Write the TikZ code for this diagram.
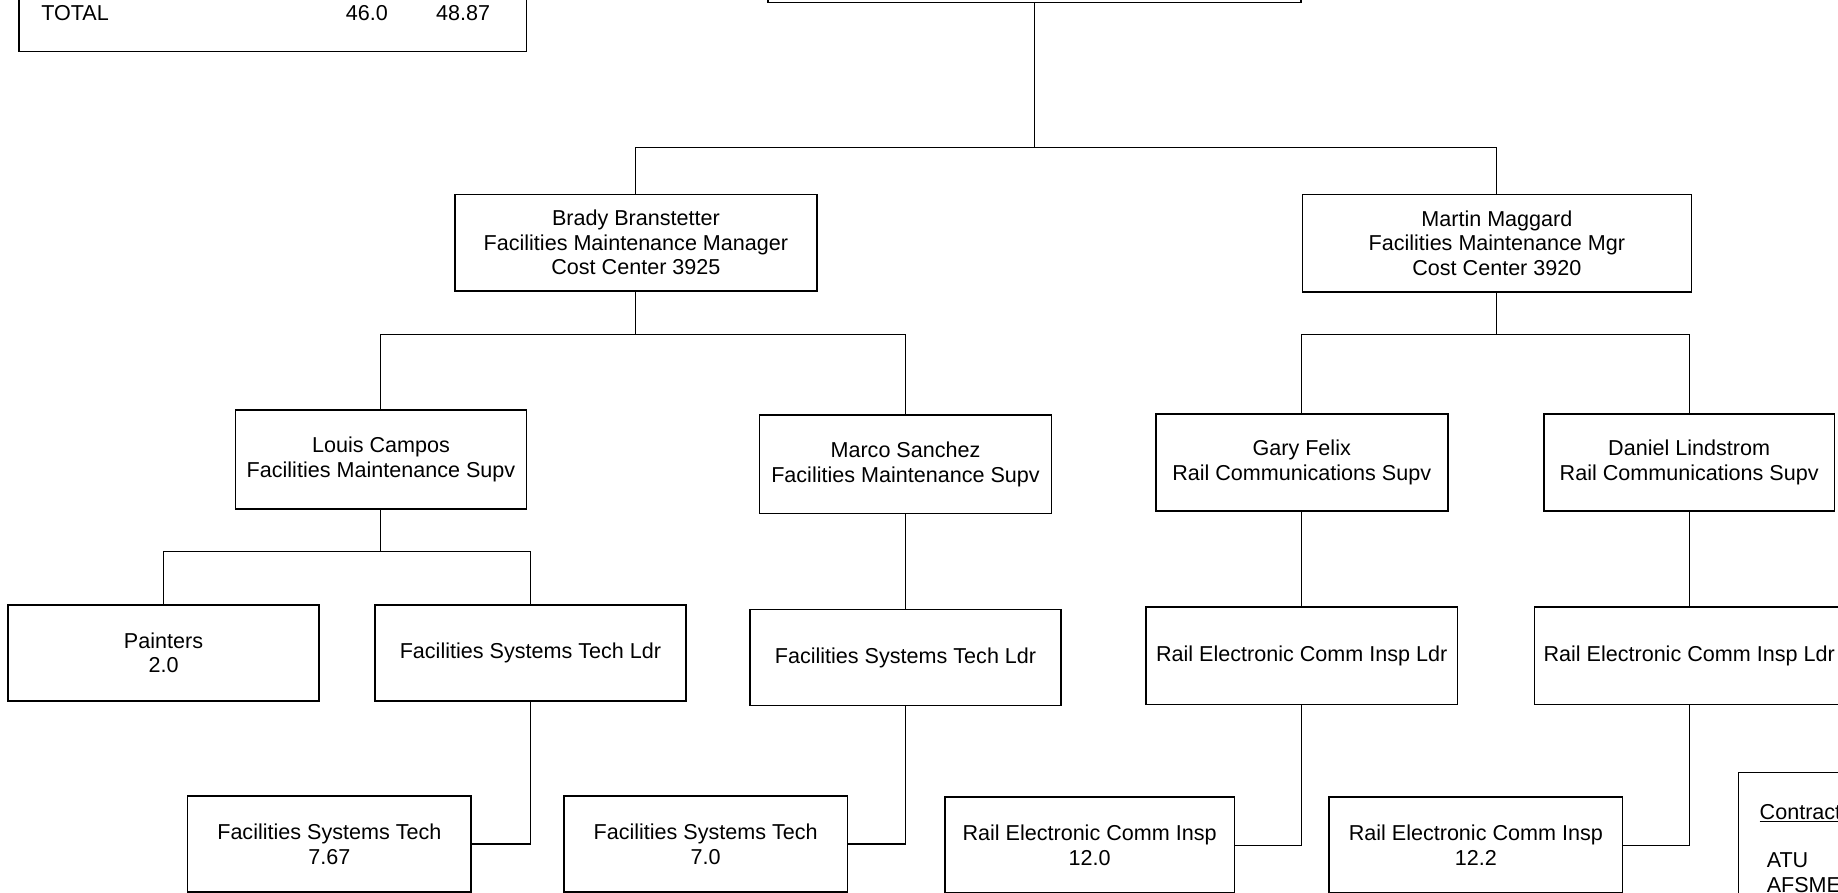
\documentclass[tikz,border=0pt]{standalone}
\usepackage{fontspec}
\setmainfont{Liberation Sans}
\newcommand\boxfont{\fontsize{18.4}{21}\selectfont}
\begin{document}
\begin{tikzpicture}[x=1pt,y=1pt,
  box/.style={draw, line width=1.4pt, align=center, inner sep=0pt, font=\boxfont},
  conn/.style={line width=0.9pt},
  lbl/.style={inner sep=0pt, font=\boxfont}]
\useasboundingbox (0,0) rectangle (1568,-761);
\clip (0,0) rectangle (1568,-761);
% partially visible boxes
\node[box, minimum width=433pt, minimum height=104pt] (tot) at (232.5,8) {};
\node[lbl, anchor=west] (totl) at (35,-11) {TOTAL};
\node[lbl] (totA) at (313,-11) {46.0};
\node[lbl] (totB) at (395,-11) {48.87};
\node[box, minimum width=455pt, minimum height=82pt] (top) at (882.5,39) {};
% level 2
\node[box, minimum width=309pt, minimum height=82pt] (brady) at (542.5,-207) {Brady Branstetter\\Facilities Maintenance Manager\\Cost Center 3925};
\node[box, minimum width=332pt, minimum height=83pt] (martin) at (1277,-207.5) {Martin Maggard\\Facilities Maintenance Mgr\\Cost Center 3920};
% level 3
\node[box, minimum width=248pt, minimum height=84pt] (louis) at (325,-392) {Louis Campos\\Facilities Maintenance Supv};
\node[box, minimum width=249pt, minimum height=84pt] (marco) at (772.5,-396) {Marco Sanchez\\Facilities Maintenance Supv};
\node[box, minimum width=249pt, minimum height=83pt] (gary) at (1110.5,-394.5) {Gary Felix\\Rail Communications Supv};
\node[box, minimum width=248pt, minimum height=83pt] (daniel) at (1441,-394.5) {Daniel Lindstrom\\Rail Communications Supv};
% level 4
\node[box, minimum width=265pt, minimum height=82pt] (painters) at (139.5,-557) {Painters\\2.0};
\node[box, minimum width=265pt, minimum height=82pt] (fstl1) at (452.5,-557) {Facilities Systems Tech Ldr};
\node[box, minimum width=265pt, minimum height=82pt] (fstl2) at (772.5,-561) {Facilities Systems Tech Ldr};
\node[box, minimum width=266pt, minimum height=83pt] (recil1) at (1110.5,-559.5) {Rail Electronic Comm Insp Ldr};
\node[box, minimum width=264pt, minimum height=83pt] (recil2) at (1441,-559.5) {Rail Electronic Comm Insp Ldr};
% level 5
\node[box, minimum width=242pt, minimum height=82pt] (fst1) at (281,-720) {Facilities Systems Tech\\7.67};
\node[box, minimum width=242pt, minimum height=82pt] (fst2) at (602,-720) {Facilities Systems Tech\\7.0};
\node[box, minimum width=247pt, minimum height=82pt] (rei1) at (929.5,-721) {Rail Electronic Comm Insp\\12.0};
\node[box, minimum width=250pt, minimum height=82pt] (rei2) at (1259,-721) {Rail Electronic Comm Insp\\12.2};
% contractors box
\node[box, minimum width=240pt, minimum height=170pt] (contr) at (1603,-744) {};
\node[lbl, anchor=west] (ctitle) at (1501,-694) {\underline{Contract}};
\node[lbl, anchor=west] (catu) at (1507,-734) {ATU};
\node[lbl, anchor=west] (cafs) at (1507,-755) {AFSME};
% connectors
\path (top.south) ++(0,-123) coordinate (j1);
\draw[conn] (top.south) -- (j1);
\draw[conn] (j1) -| (brady.north);
\draw[conn] (j1) -| (martin.north);
\path (brady.south) ++(0,-37) coordinate (j2);
\draw[conn] (brady.south) -- (j2);
\draw[conn] (j2) -| (louis.north);
\draw[conn] (j2) -| (marco.north);
\path (martin.south) ++(0,-36) coordinate (j3);
\draw[conn] (martin.south) -- (j3);
\draw[conn] (j3) -| (gary.north);
\draw[conn] (j3) -| (daniel.north);
\path (louis.south) ++(0,-36) coordinate (j4);
\draw[conn] (louis.south) -- (j4);
\draw[conn] (j4) -| (painters.north);
\draw[conn] (j4) -| (fstl1.north);
\draw[conn] (marco.south) -- (fstl2.north);
\draw[conn] (gary.south) -- (recil1.north);
\draw[conn] (daniel.south) -- (recil2.north);
\draw[conn] (fstl1.south) |- (fst1.east);
\draw[conn] (fstl2.south) |- (fst2.east);
\draw[conn] (recil1.south) |- (rei1.east);
\draw[conn] (recil2.south) |- (rei2.east);
\end{tikzpicture}
\end{document}
